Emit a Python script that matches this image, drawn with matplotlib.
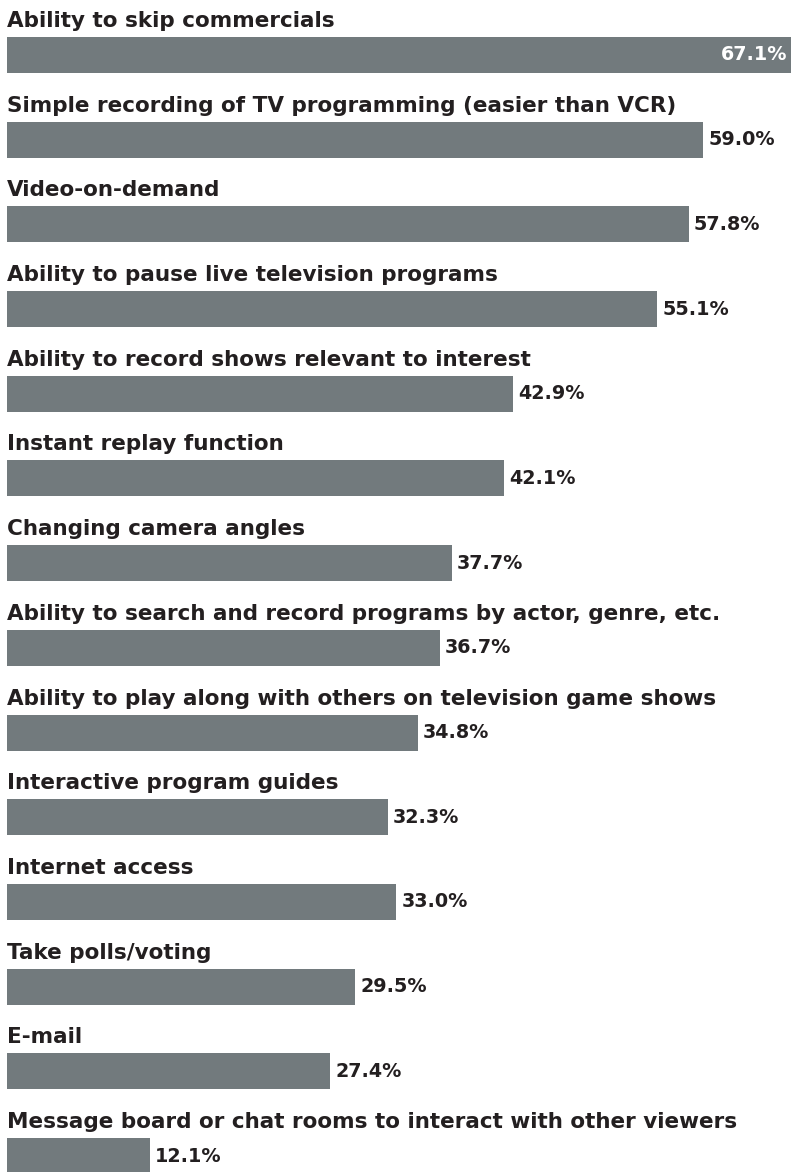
import matplotlib
matplotlib.use("Agg")
import matplotlib.pyplot as plt

features = [
    "Ability to skip commercials",
    "Simple recording of TV programming (easier than VCR)",
    "Video-on-demand",
    "Ability to pause live television programs",
    "Ability to record shows relevant to interest",
    "Instant replay function",
    "Changing camera angles",
    "Ability to search and record programs by actor, genre, etc.",
    "Ability to play along with others on television game shows",
    "Interactive program guides",
    "Internet access",
    "Take polls/voting",
    "E-mail",
    "Message board or chat rooms to interact with other viewers",
]
shares = [67.1, 59.0, 57.8, 55.1, 42.9, 42.1, 37.7, 36.7, 34.8, 32.3, 33.0, 29.5, 27.4, 12.1]

W, H, DPI = 791, 1172, 100
BAR_COLOR = "#727a7d"
TEXT_COLOR = "#231f20"
PX_PER_UNIT = 11.8      # horizontal pixels per percentage point
LEFT_PX = 7
ROW_PX = 84.7
FIRST_CENTER_PX = 55

fig = plt.figure(figsize=(W / DPI, H / DPI), dpi=DPI)
ax = fig.add_axes([0, 0, 1, 1])
ax.set_xlim(-LEFT_PX / PX_PER_UNIT, (W - LEFT_PX) / PX_PER_UNIT)
ax.set_ylim((H - FIRST_CENTER_PX) / ROW_PX, -FIRST_CENTER_PX / ROW_PX)
ax.axis("off")

bar_h = 36 / ROW_PX
ypos = list(range(len(features)))
ax.barh(ypos, shares, height=bar_h, color=BAR_COLOR, left=0)

font = dict(family="DejaVu Sans", fontweight="bold")
xmax = ax.get_xlim()[1]
for i, (name, v) in enumerate(zip(features, shares)):
    ax.text(0, i - (18 + 10) / ROW_PX, name, ha="left", va="baseline",
            fontsize=15.5, color=TEXT_COLOR, **font)
    if v >= xmax - 2:
        ax.text(xmax - 4 / PX_PER_UNIT, i, f"{v:.1f}%", ha="right", va="center",
                fontsize=13.8, color="white", **font)
    else:
        ax.text(v + 5 / PX_PER_UNIT, i, f"{v:.1f}%", ha="left", va="center",
                fontsize=13.8, color=TEXT_COLOR, **font)

fig.savefig("out.png", dpi=DPI, facecolor="white")
